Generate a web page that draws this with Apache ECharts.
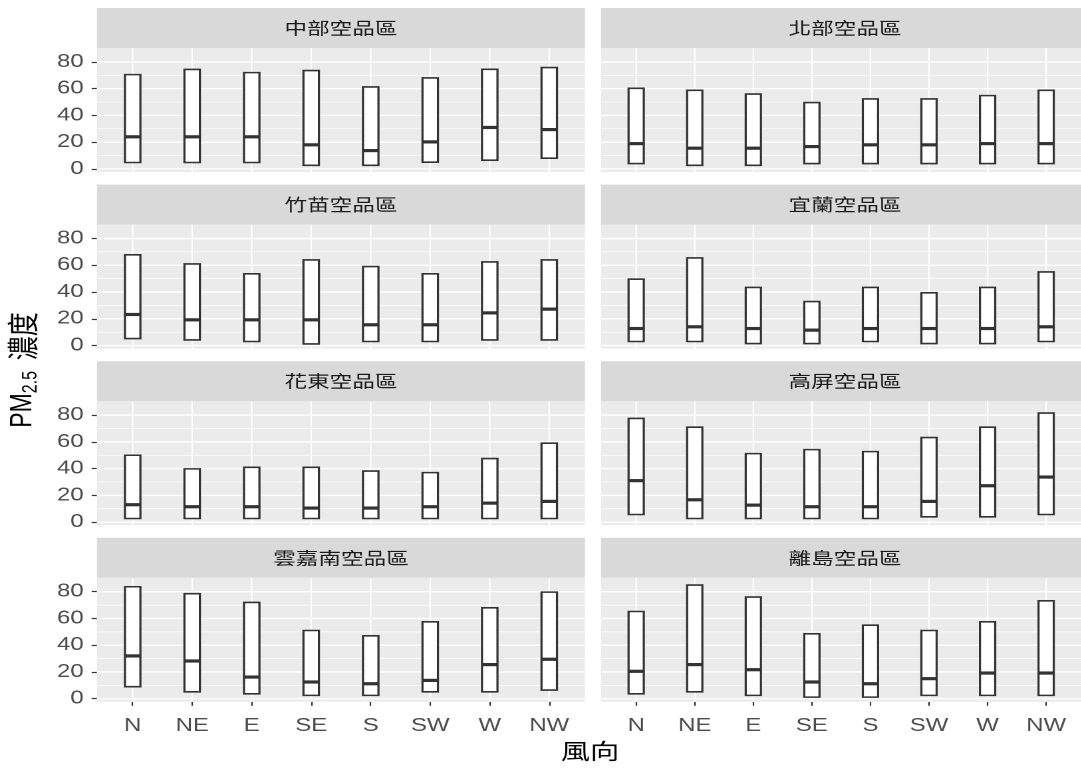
<!DOCTYPE html>
<html>
<head>
<meta charset="utf-8">
<script src="https://cdn.jsdelivr.net/npm/echarts@6/dist/echarts.min.js"></script>
<style>
  html, body { margin: 0; padding: 0; background: #fff; overflow: hidden; width: 1081px; height: 769px; }
  /* the figure is drawn at a narrower width and widened horizontally */
  #chart { width: 813px; height: 769px; transform: scaleX(1.33); transform-origin: 0 0; }
</style>
</head>
<body>
<div id="chart"></div>
<script>
// wind directions on the x axis
const directions = ['N', 'NE', 'E', 'SE', 'S', 'SW', 'W', 'NW'];
// facet titles (air quality zones), in panel order: left-right, top-bottom
const zones = ['中部空品區', '北部空品區', '竹苗空品區', '宜蘭空品區', '花東空品區', '高屏空品區', '雲嘉南空品區', '離島空品區'];
// y axis breaks
const yTicks = [0, 20, 40, 60, 80];
const yMinorBreaks = [10, 30, 50, 70];

// PM2.5 box statistics per zone: lower edge, median, upper edge
const centralLower  = [4.8, 4.8, 4.8, 2.7, 2.7, 5.0, 6.5, 8.0];
const centralMedian = [24.0, 24.0, 24.0, 18.0, 13.7, 20.2, 31.0, 29.4];
const centralUpper  = [70.5, 74.4, 72.0, 73.5, 61.3, 68.0, 74.5, 75.8];

const northLower  = [4.0, 2.7, 2.7, 4.0, 4.0, 4.0, 4.0, 4.0];
const northMedian = [18.9, 15.5, 15.5, 16.7, 18.0, 18.0, 18.9, 18.9];
const northUpper  = [60.3, 58.8, 56.0, 49.6, 52.3, 52.3, 54.8, 58.8];

const zhuMiaoLower  = [5.2, 4.2, 3.0, 1.2, 3.0, 3.0, 4.2, 4.2];
const zhuMiaoMedian = [23.2, 19.2, 19.2, 19.2, 15.5, 15.5, 24.4, 27.2];
const zhuMiaoUpper  = [67.8, 61.0, 53.6, 64.0, 59.0, 53.6, 62.5, 64.0];

const yilanLower  = [3.0, 3.0, 1.5, 1.5, 3.0, 1.5, 1.5, 3.0];
const yilanMedian = [12.7, 14.0, 12.7, 11.5, 12.7, 12.7, 12.7, 14.0];
const yilanUpper  = [49.6, 65.5, 43.4, 32.9, 43.4, 39.4, 43.4, 55.0];

const huaDongLower  = [2.7, 2.7, 2.7, 2.7, 2.7, 2.7, 2.7, 2.7];
const huaDongMedian = [13.0, 11.5, 11.5, 10.5, 10.5, 11.5, 14.2, 15.5];
const huaDongUpper  = [50.0, 39.8, 41.0, 41.0, 38.2, 37.0, 47.5, 59.0];

const gaoPingLower  = [5.7, 2.7, 2.7, 2.7, 2.7, 4.0, 4.0, 5.7];
const gaoPingMedian = [31.0, 16.7, 12.7, 11.5, 11.5, 15.5, 27.2, 33.7];
const gaoPingUpper  = [77.5, 71.0, 51.2, 54.2, 52.7, 63.2, 71.0, 81.5];

const yunJiaNanLower  = [9.0, 5.2, 3.7, 2.5, 2.5, 5.2, 5.2, 6.5];
const yunJiaNanMedian = [32.0, 28.2, 16.2, 12.5, 11.2, 13.7, 25.5, 29.5];
const yunJiaNanUpper  = [83.7, 78.5, 72.0, 51.0, 47.0, 57.5, 68.0, 79.7];

const islandsLower  = [3.7, 5.2, 2.5, 1.2, 1.2, 2.5, 2.5, 2.5];
const islandsMedian = [20.5, 25.5, 21.7, 12.5, 11.2, 15.0, 19.2, 19.2];
const islandsUpper  = [65.2, 85.0, 76.0, 48.5, 55.0, 51.0, 57.5, 73.2];

const zoneStats = [
  [centralLower, centralMedian, centralUpper],
  [northLower, northMedian, northUpper],
  [zhuMiaoLower, zhuMiaoMedian, zhuMiaoUpper],
  [yilanLower, yilanMedian, yilanUpper],
  [huaDongLower, huaDongMedian, huaDongUpper],
  [gaoPingLower, gaoPingMedian, gaoPingUpper],
  [yunJiaNanLower, yunJiaNanMedian, yunJiaNanUpper],
  [islandsLower, islandsMedian, islandsUpper]
];

// ---- layout (in the un-widened drawing space) ----
const LATIN = "'Liberation Sans', Arial, 'Noto Sans CJK TC', sans-serif";
const CJK = "'Noto Sans CJK TC', 'Noto Sans CJK JP', sans-serif";
const colLeft = [72.9, 451.9];
const panelW = 366.9;
const rowTop = [48, 224.6, 401.2, 577.8];
const panelH = 124;
const stripH = 40;
const Y_MIN = -2.3, Y_MAX = 90.4;
const X_MIN = -0.6, X_MAX = directions.length - 1 + 0.6;

function renderBox(params, api) {
  const cs = params.coordSys;
  const idx = api.value(0);
  const lo = api.coord([idx, api.value(1)]);
  const md = api.coord([idx, api.value(2)]);
  const hi = api.coord([idx, api.value(3)]);
  const half = api.size([1, 0])[0] * 0.13;
  const children = [];
  if (params.dataIndex === 0) {
    yMinorBreaks.forEach(function (v) {
      const y = api.coord([0, v])[1];
      children.push({ type: 'line', shape: { x1: cs.x, y1: y, x2: cs.x + cs.width, y2: y },
        style: { stroke: '#ffffff', lineWidth: 0.7 } });
    });
    yTicks.forEach(function (v) {
      const y = api.coord([0, v])[1];
      children.push({ type: 'line', shape: { x1: cs.x, y1: y, x2: cs.x + cs.width, y2: y },
        style: { stroke: '#ffffff', lineWidth: 1.4 } });
    });
  }
  children.push({ type: 'line', shape: { x1: lo[0], y1: cs.y, x2: lo[0], y2: cs.y + cs.height },
    style: { stroke: '#ffffff', lineWidth: 1.1 } });
  children.push({ type: 'rect', shape: { x: hi[0] - half, y: hi[1], width: half * 2, height: lo[1] - hi[1] },
    style: { fill: '#ffffff', stroke: '#333333', lineWidth: 1.6 } });
  children.push({ type: 'line', shape: { x1: md[0] - half, y1: md[1], x2: md[0] + half, y2: md[1] },
    style: { stroke: '#333333', lineWidth: 3.2 } });
  return { type: 'group', children: children };
}

const grids = [], xAxes = [], yAxes = [], series = [], graphics = [];
const directionIndex = directions.map(function (d, i) { return i; });

zones.forEach(function (zone, p) {
  const col = p % 2, row = Math.floor(p / 2);
  const left = colLeft[col], top = rowTop[row];
  const bottomRow = row === 3, leftCol = col === 0;

  grids.push({ left: left, top: top, width: panelW, height: panelH,
    show: true, backgroundColor: '#EBEBEB', borderWidth: 0 });

  xAxes.push({
    type: 'value', gridIndex: p, position: 'bottom', min: X_MIN, max: X_MAX,
    axisLine: { show: false, onZero: false },
    splitLine: { show: false },
    axisTick: { show: bottomRow, customValues: directionIndex,
      length: 4, lineStyle: { color: '#333333', width: 1.1 } },
    axisLabel: { show: bottomRow, customValues: directionIndex,
      formatter: function (v) { return directions[Math.round(v)] || ''; },
      fontSize: 18, fontFamily: LATIN, color: '#4D4D4D', margin: 15 }
  });

  yAxes.push({
    type: 'value', gridIndex: p, position: 'left', min: Y_MIN, max: Y_MAX,
    axisLine: { show: false, onZero: false },
    splitLine: { show: false },
    axisTick: { show: leftCol, customValues: yTicks, length: 4,
      lineStyle: { color: '#333333', width: 1.2 } },
    axisLabel: { show: leftCol, customValues: yTicks, fontSize: 18, fontFamily: LATIN,
      color: '#4D4D4D', margin: 10 }
  });

  const [lower, median, upper] = zoneStats[p];
  series.push({
    type: 'custom', name: zone, xAxisIndex: p, yAxisIndex: p, silent: true,
    renderItem: renderBox,
    encode: { x: 0, y: [1, 2, 3] },
    data: directions.map(function (d, i) { return [i, lower[i], median[i], upper[i]]; })
  });

  // facet strip
  graphics.push({ type: 'rect', silent: true,
    shape: { x: left, y: top - stripH, width: panelW, height: stripH },
    style: { fill: '#D9D9D9' } });
  graphics.push({ type: 'text', silent: true, x: left + panelW / 2, y: top - stripH / 2,
    style: { text: zone, fill: '#1A1A1A', fontSize: 17, fontFamily: CJK,
      align: 'center', verticalAlign: 'middle', textAlign: 'center', textVerticalAlign: 'middle' } });
});

// axis titles
graphics.push({ type: 'text', silent: true, x: 443.6, y: 751,
  style: { text: '風向', fill: '#000000', fontSize: 22, fontFamily: CJK,
    align: 'center', verticalAlign: 'middle', textAlign: 'center', textVerticalAlign: 'middle' } });
graphics.push({ type: 'text', silent: true, x: 17, y: 370, rotation: Math.PI / 2,
  style: {
    text: '{a|PM}{s|2.5}{c|  濃度}',
    align: 'center', verticalAlign: 'middle', textAlign: 'center', textVerticalAlign: 'middle',
    rich: {
      a: { fontSize: 23, fontFamily: LATIN, fill: '#000000', color: '#000000', lineHeight: 28, verticalAlign: 'middle' },
      s: { fontSize: 16, fontFamily: LATIN, fill: '#000000', color: '#000000', lineHeight: 16, verticalAlign: 'bottom' },
      c: { fontSize: 24, fontFamily: CJK, fill: '#000000', color: '#000000', lineHeight: 28, verticalAlign: 'middle' }
    }
  } });

const chart = echarts.init(document.getElementById('chart'), null, { renderer: 'canvas', devicePixelRatio: 2 });
chart.setOption({
  animation: false,
  backgroundColor: '#ffffff',
  grid: grids,
  xAxis: xAxes,
  yAxis: yAxes,
  series: series,
  graphic: { elements: graphics }
});
</script>
</body>
</html>
